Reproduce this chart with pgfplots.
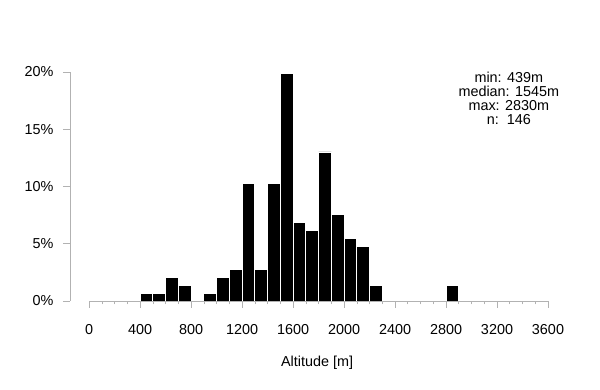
\documentclass[border=0pt]{standalone}
\usepackage{fontspec}
\setmainfont{Liberation Sans}
\usepackage{pgfplots}
\pgfplotsset{compat=1.18}
\begin{document}
\begin{tikzpicture}[x=1pt,y=1pt]
\useasboundingbox (-70,-89) rectangle (530,301);
\begin{axis}[
  at={(0,0)}, anchor=south west,
  scale only axis, width=478pt, height=229pt,
  xmin=-150, xmax=3600, ymin=0, ymax=20,
  clip=false,
  axis x line*=bottom, axis y line*=left,
  axis line style={draw=none},
  tick align=outside,
  major tick length=7pt, minor tick length=3.5pt,
  tick style={gray!60, line width=0.6pt},
  xtick={0,400,...,3600},
  xticklabels={0,400,800,1200,1600,2000,2400,2800,3200,3600},
  minor x tick num=3,
  ytick={0,5,10,15,20},
  yticklabels={0\%,5\%,10\%,15\%,20\%},
  ticklabel style={font=\fontsize{14.4}{14}\selectfont},
  xticklabel style={yshift=-13pt},
  yticklabel style={xshift=-6pt},
  xlabel={Altitude [m]},
  xlabel style={at={(axis description cs:0.517,0)}, anchor=center, yshift=-62pt, font=\fontsize{14.4}{14}\selectfont},
]
\addplot[ybar, bar width=100, bar shift=0pt, fill=black, draw=white, line width=0.8pt] coordinates {
(450,0.685) (550,0.685) (650,2.055) (750,1.370)
(950,0.685) (1050,2.055) (1150,2.740) (1250,10.274) (1350,2.740)
(1450,10.274) (1550,19.863) (1650,6.849) (1750,6.164) (1850,13.014)
(1950,7.534) (2050,5.479) (2150,4.795) (2250,1.370) (2850,1.370)
};
\draw[gray!60, line width=0.6pt] (axis cs:0,0) -- (axis cs:3600,0);
\draw[gray!60, line width=0.6pt] (axis cs:-150,0) -- (axis cs:-150,20);
\node[align=center, font=\fontsize{14.4}{14}\selectfont, anchor=center] at (axis description cs:0.918,0.886) {min: 439m\\median: 1545m\\max: 2830m\\n:\ \ 146};
\end{axis}
\end{tikzpicture}
\end{document}
